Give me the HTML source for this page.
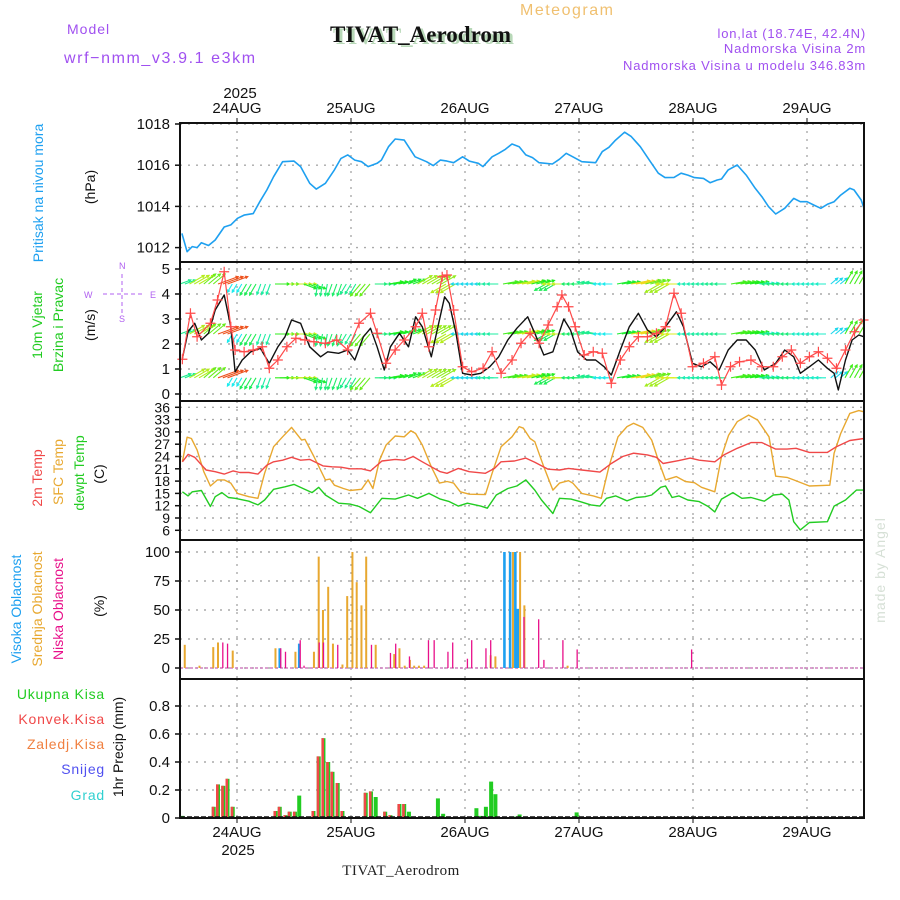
<!DOCTYPE html>
<html><head><meta charset="utf-8"><style>
html,body{margin:0;padding:0;background:#fff;}
svg{display:block;font-family:"Liberation Sans",sans-serif;}
</style></head><body>
<svg id="chart" width="900" height="900" viewBox="0 0 900 900" xmlns="http://www.w3.org/2000/svg">
<defs><clipPath id="windClip"><rect x="180" y="262" width="684" height="139"/></clipPath></defs>
<rect width="900" height="900" fill="#fff"/>
<!-- header -->
<text x="67" y="34" font-size="14" fill="#a050f0" letter-spacing="1">Model</text>
<text x="64" y="63" font-size="16" fill="#a050f0" letter-spacing="1.6">wrf−nmm_v3.9.1 e3km</text>
<text x="520" y="15" font-size="16" fill="#f0c070" letter-spacing="1.5">Meteogram</text>
<text x="333" y="44" font-size="23" font-weight="bold" fill="#b8d8b8" font-family="Liberation Serif, serif">TIVAT_Aerodrom</text>
<text x="330" y="42" font-size="23" font-weight="bold" fill="#111" font-family="Liberation Serif, serif">TIVAT_Aerodrom</text>
<text x="866" y="38" font-size="13" fill="#a050f0" text-anchor="end" letter-spacing="0.8">lon,lat (18.74E, 42.4N)</text>
<text x="866" y="53" font-size="13" fill="#a050f0" text-anchor="end" letter-spacing="0.8">Nadmorska Visina 2m</text>
<text x="866" y="70" font-size="13" fill="#a050f0" text-anchor="end" letter-spacing="0.8">Nadmorska Visina u modelu 346.83m</text>
<text x="240" y="98" font-size="15" text-anchor="middle" fill="#111">2025</text>
<text x="238" y="855" font-size="15" text-anchor="middle" fill="#111">2025</text>
<text x="401" y="875" font-size="15" text-anchor="middle" fill="#222" font-family="Liberation Serif, serif" letter-spacing="0.5">TIVAT_Aerodrom</text>
<text transform="translate(885,570) rotate(-90)" font-size="14" fill="#d6e0d6" text-anchor="middle" letter-spacing="1">made by Angel</text>

<!-- left titles -->
<text transform="translate(43,193) rotate(-90)" font-size="14" fill="#1ea0f0" text-anchor="middle">Pritisak na nivou mora</text>
<text transform="translate(95,187) rotate(-90)" font-size="14" fill="#111" text-anchor="middle">(hPa)</text>
<text transform="translate(42,325) rotate(-90)" font-size="14" fill="#22cc22" text-anchor="middle">10m Vjetar</text>
<text transform="translate(63,325) rotate(-90)" font-size="14" fill="#22cc22" text-anchor="middle">Brzina i Pravac</text>
<text transform="translate(95,325) rotate(-90)" font-size="14" fill="#111" text-anchor="middle">(m/s)</text>
<g fill="#b060f0" stroke="#b060f0" font-size="9">
<text x="84" y="298" stroke="none">W</text><text x="150" y="298" stroke="none">E</text>
<text x="119" y="269" stroke="none">N</text><text x="119" y="322" stroke="none">S</text>
<line x1="103" y1="294" x2="143" y2="294" stroke-dasharray="4,3"/><line x1="122" y1="274" x2="122" y2="314" stroke-dasharray="4,3"/>
</g>
<text transform="translate(42,478) rotate(-90)" font-size="14" fill="#f04848" text-anchor="middle">2m Temp</text>
<text transform="translate(63,472) rotate(-90)" font-size="14" fill="#e8a830" text-anchor="middle">SFC Temp</text>
<text transform="translate(84,473) rotate(-90)" font-size="14" fill="#22cc22" text-anchor="middle">dewpt Temp</text>
<text transform="translate(104,474) rotate(-90)" font-size="14" fill="#111" text-anchor="middle">(C)</text>
<text transform="translate(21,609) rotate(-90)" font-size="14" fill="#1ea0f0" text-anchor="middle">Visoka Oblacnost</text>
<text transform="translate(42,609) rotate(-90)" font-size="14" fill="#e8a830" text-anchor="middle">Srednja Oblacnost</text>
<text transform="translate(63,609) rotate(-90)" font-size="14" fill="#e8108a" text-anchor="middle">Niska Oblacnost</text>
<text transform="translate(104,606) rotate(-90)" font-size="14" fill="#111" text-anchor="middle">(%)</text>
<g font-size="14" text-anchor="end" letter-spacing="0.8">
<text x="105" y="699" fill="#22cc22">Ukupna Kisa</text>
<text x="105" y="724" fill="#f04848">Konvek.Kisa</text>
<text x="105" y="749" fill="#f08040">Zaledj.Kisa</text>
<text x="105" y="774" fill="#5050f0">Snijeg</text>
<text x="105" y="800" fill="#30d0d0">Grad</text>
</g>
<text transform="translate(123,747) rotate(-90)" font-size="14" fill="#111" text-anchor="middle">1hr Precip (mm)</text>
<g id="plot"></g>
</svg>
<script>
// ---------- data ----------
const dayLabels = ["24AUG","25AUG","26AUG","27AUG","28AUG","29AUG"];
const dayHours = [12,36,60,84,108,132];
const pressTicks = [1012,1014,1016,1018];
const windTicks = [0,1,2,3,4,5];
const tempTicks = [6,9,12,15,18,21,24,27,30,33,36];
const cloudTicks = [0,25,50,75,100];
const precipTicks = [0,0.2,0.4,0.6,0.8];
const precipTickLabels = ["0","0.2","0.4","0.6","0.8"];

const pressHours = [0.4,1.5,2.6,3.6,4.5,6,7.4,9.3,10.7,12.1,13.5,15.4,16.8,18.3,19.7,21.6,24,25.4,27.3,28.7,30.6,32.5,33.9,35.3,36.8,38.2,39.6,41.5,42.4,43.9,45.3,47.2,49.5,51.9,53.3,54.8,56.2,57.6,59.5,60.9,62.8,63.8,65.7,67.1,68.5,69.9,71.4,72.8,74.2,75.6,78.4,79.9,81.3,82.7,84.6,87.5,88.9,90.3,91.7,93.6,95,96.9,98.8,100.7,102.1,104,105.5,106.9,108.3,110.2,111.6,113.1,114,115.4,117.3,119.2,121.1,122.5,123.9,125.4,127.3,129.2,130.6,132,133.4,134.9,136.3,137.7,139.1,141,141.9,143.4,144];
const pressVals = [1012.69,1011.8,1012.05,1012.0,1012.24,1012.1,1012.37,1013.0,1013.1,1013.42,1013.58,1013.65,1014.23,1014.8,1015.44,1016.17,1016.2,1015.93,1015.12,1014.84,1015.12,1015.77,1016.33,1016.5,1016.25,1016.17,1015.93,1016.09,1016.25,1016.9,1017.27,1017.22,1016.41,1016.17,1015.98,1016.25,1016.2,1016.12,1016.41,1016.2,1016.09,1015.93,1016.41,1016.58,1016.77,1017.03,1016.9,1016.5,1016.37,1016.12,1016.06,1016.29,1016.58,1016.41,1016.17,1016.12,1016.66,1016.87,1017.22,1017.6,1017.39,1016.9,1016.25,1015.61,1015.4,1015.41,1015.61,1015.52,1015.4,1015.36,1015.15,1015.28,1015.33,1015.77,1016.01,1015.52,1014.88,1014.47,1013.99,1013.63,1013.91,1014.39,1014.23,1014.23,1014.07,1013.91,1014.1,1014.23,1014.55,1014.88,1014.8,1014.31,1013.91];

const speedHours = [0.5,1.7,3.1,4.5,6,7.4,9.3,10.7,11.6,13.1,14.9,16.9,18.8,20.6,22.1,23.5,25.4,27.3,29.6,31.1,33.4,35.3,36.8,38.6,40.1,41.5,43,44.3,46.2,48.1,49.6,51,52.9,54.3,55.7,56.7,58.1,59.5,61.4,63.3,65.2,67.1,69,70.9,73.2,74.7,76.6,78.5,80.8,82.2,83.7,85.6,87.5,89.3,90.8,92.7,94.6,96.5,98.4,100.3,102.2,104.5,106,107.9,109.8,111.6,113.5,115.4,117.3,119.2,121.1,123,125.4,127.3,129.2,130.6,132.5,134.4,136.3,137.7,138.6,140.1,141.5,142.9,144];
const speedVals = [1.43,2.5,2.83,2.16,2.43,3.36,3.96,2.69,0.89,1.36,1.69,1.83,1.23,1.89,2.29,2.96,2.83,1.89,1.49,1.69,1.63,1.76,1.36,2.29,2.63,1.89,0.96,1.89,2.43,1.89,3.09,2.69,1.49,2.69,3.89,3.63,2.43,0.83,0.76,0.83,1.09,1.49,2.16,2.63,3.09,2.43,1.56,1.69,3.0,2.56,1.69,1.36,1.36,1.09,0.76,1.76,2.69,3.23,2.56,2.29,2.69,3.29,2.69,1.23,1.09,1.29,0.96,1.76,2.16,2.16,1.76,0.96,1.23,1.76,1.49,0.83,1.09,1.36,1.03,0.83,0.16,1.36,2.16,2.36,2.29];

const gustHours = [0.5,2.2,3.6,6.4,7.9,9.3,10.7,11.6,13.5,15.4,17.3,18.8,20.6,22.5,24.4,26.3,28.2,30.6,33,35.3,37.7,40.1,41.5,43.4,45.3,47.2,49.6,51,52.4,53.8,55.2,56.2,57.6,59.5,61.4,63.8,65.7,67.6,69.9,71.8,73.7,75.6,77.5,79.4,80.4,81.8,83.2,85.1,87,88.9,90.8,92.7,94.6,96.5,98.4,100.3,102.2,104,105.5,107.9,110.2,112.6,114,115.9,117.8,120.2,122.5,124.9,126.8,128.7,130.6,132.5,134.4,136.3,138.2,140.1,142,143.9];
const gustVals = [1.39,3.23,2.29,2.83,3.76,4.89,2.69,1.76,1.69,1.76,1.89,1.03,1.36,1.89,2.23,2.16,2.09,2.03,2.16,1.76,2.83,3.23,2.43,1.23,1.76,2.16,2.69,3.23,1.89,3.36,4.69,4.76,3.36,1.09,0.89,1.03,1.69,0.83,1.36,2.03,2.43,2.03,2.76,3.49,3.96,3.49,2.69,1.56,1.69,1.63,0.43,1.36,1.89,2.29,2.29,2.43,2.69,4.03,3.23,1.09,1.23,1.49,0.36,1.09,1.29,1.36,1.09,1.09,1.49,1.76,1.23,1.49,1.69,1.43,1.03,1.76,2.49,2.96];

// wind arrows, 3-hourly: speed (m/s) and screen direction (deg, 0=east, 90=down)
const windHours3 = [0,3,6,9,12,15,18,21,24,27,30,33,36,39,42,45,48,51,54,57,60,63,66,69,72,75,78,81,84,87,90,93,96,99,102,105,108,111,114,117,120,123,126,129,132,135,138,141,144];
const windSpd3 = [1.4,2.8,2.4,3.9,0.9,1.7,1.3,2.1,2.9,1.9,1.5,1.6,1.4,2.4,1.5,2.0,1.9,2.7,2.6,2.8,0.8,0.8,1.3,2.2,2.9,2.0,1.7,2.9,1.6,1.4,0.9,1.9,3.2,2.4,2.7,3.0,1.2,1.3,1.4,2.2,2.0,1.0,1.5,1.5,1.1,1.1,0.8,2.2,2.3];
const windDir3 = [-20,-30,-40,-20,120,120,110,0,0,20,100,110,120,130,0,-10,-20,-30,-30,150,180,180,180,-10,-10,-15,150,180,180,190,180,-10,-10,-15,150,180,180,180,180,-10,-10,-5,180,180,180,180,-40,-60,-60];
const windRowLevels = [4.4,2.4,0.65];

const sfcHours = [0.5,1.5,2.4,3.6,5,6.4,7.9,9.3,10.7,12.1,14.5,16.4,17.8,19.7,21.6,23.5,25.6,26.3,28.2,30.6,31.6,32.5,34.4,35.8,38.2,39.6,40.6,42,43.4,45.3,47.2,48.6,49.6,51,52.9,54.6,56.2,57.6,59,60.9,64.3,65.7,67.6,69.9,71.4,72.3,73.7,74.7,76.6,78.5,79.9,81.8,82.7,84.6,87,88.7,90.3,92.2,94.1,95.5,97.4,99.3,100.7,102.2,104.5,106.4,108.3,109.8,112.6,114,115.5,117.3,119.7,121.6,124,125.4,127.8,129.2,132.5,136.8,137.7,139.1,141,142.9,144];
const sfcVals = [22.7,28.7,28.4,25.6,20.3,16.8,18.3,18.3,17.5,15.0,14.2,13.8,19.9,26.4,28.8,31.1,28.0,28.2,24.0,18.3,18.5,17.0,16.2,15.7,16.0,18.3,16.2,23.1,26.8,29.0,28.8,30.3,29.6,26.8,21.5,17.5,17.9,17.5,15.4,14.8,14.7,19.9,26.4,28.8,31.3,30.9,28.4,27.6,21.5,15.8,17.5,18.1,17.5,15.0,14.4,13.8,21.5,28.8,31.3,32.1,31.1,28.0,23.1,18.3,19.1,17.9,17.6,16.5,15.4,24.0,29.2,32.5,34.1,32.9,28.8,19.2,18.9,18.3,16.8,17.0,24.8,29.6,34.5,35.2,34.9];

const t2Hours = [0.5,1.7,3.1,5.5,7.4,9.3,11.2,12.6,14.5,16.4,18.3,19.7,21.6,23.5,25.4,27.3,30.1,32,33.9,35.8,38.2,40.1,42.5,45.3,47.2,49.1,51,52.9,54.8,56.2,58.6,60.9,64.3,66.2,67.6,70.4,72.8,74.7,77.5,79.9,81.8,84.6,88.4,90.8,93.2,95.5,98.4,100.3,101.7,105,107.4,109.3,112.6,114.5,117.3,120.2,122.5,125.4,127.8,129.7,132.5,136.3,138.2,141,144];
const t2Vals = [22.7,24.5,23.8,20.7,20.3,19.7,20.5,20.1,20.1,19.7,21.9,22.7,23.1,23.8,23.1,23.3,21.7,21.5,21.4,21.0,21.0,20.5,22.9,23.3,23.1,24.0,22.7,21.5,20.3,19.9,21.1,20.3,19.9,21.1,22.7,22.9,23.6,22.6,20.9,20.7,21.1,20.7,20.2,22.3,24.0,24.8,24.4,23.8,22.3,23.0,23.6,23.1,22.7,24.4,26.0,27.4,27.4,25.8,25.8,26.0,25.0,25.0,26.4,27.9,28.4];

const dewHours = [0.5,1.7,2.6,4.5,6.4,7.4,8.8,10.2,11.6,14.5,16.4,17.8,19.7,22.1,24,25.9,27.8,29.2,30.6,33.4,35.8,37.7,40.1,42.5,45.3,48.1,50,52.4,54.8,56.7,58.6,60.5,63.3,64.7,66.6,69,70.9,72.8,74.7,76.1,78.5,79.9,82.3,84.2,86.5,88.4,89.8,91.7,94.1,96,97.9,99.3,101.2,102.2,103.6,105,106.9,109.3,111.2,112.6,114,116.4,118.3,120.2,123,124.9,126.8,128.2,129.2,130.6,132.5,136.3,137.7,140.1,142.4,144];
const dewVals = [15.4,14.4,15.4,15.7,11.8,14.2,15.2,14.0,13.8,13.1,12.2,13.4,16.0,16.6,17.2,16.2,15.2,16.5,14.6,12.6,12.4,11.8,10.3,13.8,13.6,14.6,13.8,15.0,13.6,13.0,11.9,12.6,11.9,11.4,14.6,16.2,16.8,18.3,15.8,13.4,10.1,13.8,13.6,13.0,12.2,11.9,13.8,14.4,13.2,14.0,14.2,14.6,16.5,16.8,14.0,14.4,13.4,13.0,11.8,10.5,13.6,15.2,13.8,14.0,13.1,14.6,14.8,13.4,8.1,6.1,7.9,8.1,11.9,13.4,15.8,15.8];

const midCloudHours = [1,4.1,7,8,11.1,20.1,24.3,28.2,29.2,30.1,31.2,32.2,34.2,35.2,36.3,37.2,38.2,39.2,41.2,45.1,46.2,47.3,48.4,49.3,50.3,51.4,65.4,66.4,70.1,71.6,72.5,81.6];
const midCloudVals = [20,2,18,22,15,17,14,14,96,50,70,21,3,62,100,74,54,96,20,12,17,2,7,2,2,2,11,10,100,100,54,2];
const lowCloudHours = [9,10,21.2,22.2,25.3,26.1,29.3,30.2,33.2,40.3,44.3,45.4,48.3,52.3,53.5,56.4,57.4,60.5,61.4,64.4,65.4,72.4,75.5,76.6,80.6,83.6,107.7];
const lowCloudVals = [22,21,17,14,24,2,22,22,20,20,13,21,10,24,24,14,22,8,24,17,24,44,42,7,24,16,16];
const highCloudHours = [21,25.1,68.3,69.5,70.6,71.1];
const highCloudVals = [17,21,100,100,100,51];

const precipHours = [0.5,7.1,8,9.1,10,11.1,20.1,21,22.2,23.1,24.2,25.1,28.1,29.2,30.2,31.2,32.1,33.2,34.2,39.1,40.2,41.2,43.2,44.3,46.2,47.2,48.2,54.3,55.4,62.4,63.3,64.4,65.5,66.4,70.5,71.5,83.5];
const totalPrecip = [0.015,0.08,0.24,0.23,0.28,0.08,0.05,0.08,0.02,0.045,0.045,0.16,0.05,0.44,0.57,0.40,0.33,0.25,0.05,0.18,0.19,0.15,0.045,0.02,0.10,0.10,0.045,0.14,0.03,0.07,0.015,0.08,0.26,0.17,0.01,0.025,0.04];
const convPrecip = [0,0.08,0.24,0.23,0.28,0.08,0.05,0.08,0.02,0.045,0.045,0,0.05,0.44,0.57,0.40,0.33,0.25,0.05,0.18,0.19,0,0.045,0.02,0.10,0.10,0,0,0,0,0,0,0,0,0,0,0];

// ---------- layout & axes ----------
const NS = "http://www.w3.org/2000/svg";
const plot = document.getElementById("plot");
const X0 = 180, X1 = 864, HOURS = 144;
const xh = h => X0 + (X1 - X0) * h / HOURS;
const panels = {
  press:{top:123,bot:262},wind:{top:262,bot:401},temp:{top:401,bot:540},cloud:{top:540,bot:679},precip:{top:679,bot:818}
};
const yPress = p => 124 + (1018 - p) * 20.6;
const yWind = v => 394 - 25 * v;
const yTemp = t => 407.3 + (36 - t) * 4.1;
const yCloud = c => 668 - 1.16 * c;
const yPrecip = v => 818 - 140 * v;

function mk(tag, attrs, parent){
  const e = document.createElementNS(NS, tag);
  for (const k in attrs) e.setAttribute(k, attrs[k]);
  (parent || plot).appendChild(e);
  return e;
}
function line(a, parent){ return mk("line", a, parent); }

// grids
const grid = mk("g", {});


dayHours.forEach(h => {
  Object.values(panels).forEach(p => {
    line({x1:xh(h),x2:xh(h),y1:p.top,y2:p.bot,stroke:"#aaa","stroke-width":1.4,"stroke-dasharray":"2,6"}, grid);
  });
});
function hgrid(ticks, yf){
  ticks.forEach(t => line({x1:X0,x2:X1,y1:yf(t),y2:yf(t),stroke:"#aaa","stroke-width":1.4,"stroke-dasharray":"2,6"}, grid));
}
hgrid(pressTicks, yPress); hgrid(windTicks, yWind); hgrid(tempTicks, yTemp); hgrid(cloudTicks, yCloud); hgrid(precipTicks, yPrecip);

// tick labels
function yTicks(name, ticks, labels, yf, size){
  const g = mk("g", {"font-size":size,"text-anchor":"end",fill:"#111"});
  
  
  ticks.forEach((t,i) => {
    line({x1:X0-5,x2:X0,y1:yf(t),y2:yf(t),stroke:"#111","stroke-width":1.5}, g);
    const tx = mk("text", {x:X0-10,y:yf(t)+5}, g);
    tx.textContent = labels[i];
  });
}
yTicks("pressure-y-axis", pressTicks, pressTicks.map(String), yPress, 15);
yTicks("wind-y-axis", windTicks, windTicks.map(String), yWind, 15);
yTicks("temp-y-axis", tempTicks, tempTicks.map(String), yTemp, 14);
yTicks("cloud-y-axis", cloudTicks, cloudTicks.map(String), yCloud, 15);
yTicks("precip-y-axis", precipTicks, precipTickLabels, yPrecip, 15);

const xTop = mk("g", {"font-size":15,"text-anchor":"middle",fill:"#111"});


const xBot = mk("g", {"font-size":15,"text-anchor":"middle",fill:"#111"});


dayHours.forEach((h,i) => {
  const a = mk("text", {x:xh(h), y:113}, xTop); a.textContent = dayLabels[i];
  const b = mk("text", {x:xh(h), y:837}, xBot); b.textContent = dayLabels[i];
  line({x1:xh(h),x2:xh(h),y1:118,y2:123,stroke:"#111"}, xTop);
  line({x1:xh(h),x2:xh(h),y1:818,y2:823,stroke:"#111"}, xBot);
});

// series helpers
function polyline(name, hours, vals, yf, color, w){
  const pts = hours.map((h,i) => xh(h).toFixed(1) + "," + yf(vals[i]).toFixed(1)).join(" ");
  const pl = mk("polyline", {points:pts, fill:"none", stroke:color, "stroke-width":w, "stroke-linejoin":"round"});
  
  
  return pl;
}

// pressure
polyline("pressure-line", pressHours, pressVals, yPress, "#1ea0f0", 1.6);

// wind arrows
const arrows = mk("g", {"stroke-width":1.1, fill:"none", "clip-path":"url(#windClip)"});


function spdColor(s){ const hue = Math.max(-30, 230 - s*55); return "hsl(" + ((hue+360)%360) + ",85%,52%)"; }
windRowLevels.forEach(lv => {
  for (let h = 0; h <= HOURS; h++) {
    const k = Math.round(h/3);
    const s = windSpd3[k], d = windDir3[k] * Math.PI/180;
    const L = 6 + s*4;
    const x0 = xh(h), y0 = yWind(lv);
    const x1 = x0 + L*Math.cos(d), y1 = y0 + L*Math.sin(d);
    const c = spdColor(s);
    const a1 = d + Math.PI*0.85, a2 = d - Math.PI*0.85;
    const p = mk("path", {d:`M${x0.toFixed(1)},${y0.toFixed(1)}L${x1.toFixed(1)},${y1.toFixed(1)}M${(x1+3*Math.cos(a1)).toFixed(1)},${(y1+3*Math.sin(a1)).toFixed(1)}L${x1.toFixed(1)},${y1.toFixed(1)}L${(x1+3*Math.cos(a2)).toFixed(1)},${(y1+3*Math.sin(a2)).toFixed(1)}`, stroke:c}, arrows);
    
    
  }
});

polyline("wind-speed-line", speedHours, speedVals, yWind, "#111", 1.4);
polyline("wind-gust-line", gustHours, gustVals, yWind, "#ff4a4a", 1.2);
const plus = mk("g", {stroke:"#ff4a4a","stroke-width":1.2});


gustHours.forEach((h,i) => {
  const x = xh(h), y = yWind(gustVals[i]);
  const p = mk("path", {d:`M${x-5},${y}H${x+5}M${x},${y-5}V${y+5}`}, plus);
  
  
});

// temperatures
polyline("sfc-temp-line", sfcHours, sfcVals, yTemp, "#e8a830", 1.4);
polyline("temp-2m-line", t2Hours, t2Vals, yTemp, "#f04848", 1.4);
polyline("dewpoint-line", dewHours, dewVals, yTemp, "#22cc22", 1.4);

// clouds
const cg = mk("g", {});


line({x1:X0,x2:X1,y1:yCloud(0),y2:yCloud(0),stroke:"#d080c0","stroke-width":1.5,"stroke-dasharray":"3,2"}, cg);
function cloudBars(name, hours, vals, color, w, off){
  hours.forEach((h,i) => {
    const r = mk("rect", {x:xh(h)+off, y:yCloud(vals[i]), width:w, height:yCloud(0)-yCloud(vals[i]), fill:color}, cg);
    
    
  });
}
cloudBars("high-cloud-bar", highCloudHours, highCloudVals, "#1ea0f0", 2.6, -1.3);
cloudBars("mid-cloud-bar", midCloudHours, midCloudVals, "#e8a830", 2, -1);
cloudBars("low-cloud-bar", lowCloudHours, lowCloudVals, "#e8108a", 1.3, -0.6);

// precipitation
const pg = mk("g", {});


precipHours.forEach((h,i) => {
  const t = mk("rect", {x:xh(h)-2, y:yPrecip(totalPrecip[i]), width:4, height:yPrecip(0)-yPrecip(totalPrecip[i]), fill:"#22cc22"}, pg);
  
  
  if (convPrecip[i] > 0) {
    const c = mk("rect", {x:xh(h)-2, y:yPrecip(convPrecip[i]), width:2.6, height:yPrecip(0)-yPrecip(convPrecip[i]), fill:"#f04848"}, pg);
    
    
  }
});
line({x1:X0,x2:X1,y1:817,y2:817,stroke:"#111","stroke-width":1.5,"stroke-dasharray":"5,2"}, pg);

// frames
Object.keys(panels).forEach(k => {
  const p = panels[k];
  const r = mk("rect", {x:X0, y:p.top, width:X1-X0, height:p.bot-p.top, fill:"none", stroke:"#111", "stroke-width":2});
  
  
});
</script>
</body></html>
